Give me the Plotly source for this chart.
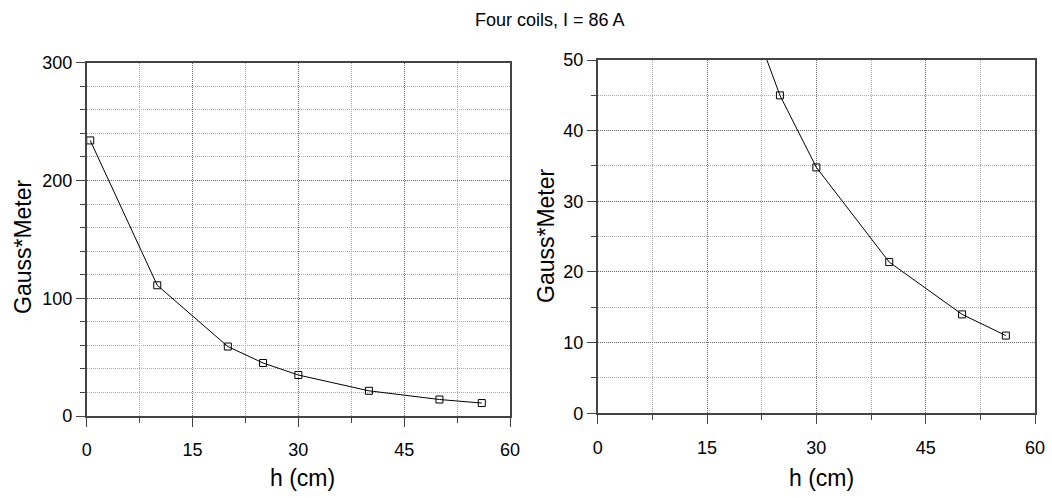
import plotly.graph_objects as go

# Data
h_cm = [0.5, 10, 20, 25, 30, 40, 50, 56]
gauss_meter = [234, 111, 59, 45, 34.8, 21.4, 14.0, 11.0]

title_text = "Four coils, I = 86 A"
x_title = "h (cm)"
y_title = "Gauss*Meter"

W, H = 1052, 498
FONT = "Liberation Sans, Arial, Helvetica, sans-serif"

fig = go.Figure()
for ax in ("", "2"):
    fig.add_trace(go.Scatter(
        x=h_cm, y=gauss_meter, mode="lines+markers",
        line=dict(color="black", width=1),
        marker=dict(symbol="square-open", size=7, color="black", line=dict(width=1)),
        xaxis="x" + ax, yaxis="y" + ax, showlegend=False, cliponaxis=True,
    ))

def px_x(p):
    return p / W

def px_y(p):
    return 1 - p / H

DOT = "1px,1px"
common_axis = dict(
    showline=True, linecolor="#444", linewidth=1.5, mirror=True,
    ticks="outside", ticklen=9, tickcolor="#444", tickwidth=1,
    showgrid=True, gridcolor="#666", griddash=DOT, gridwidth=1,
    zeroline=False, automargin=False,
    tickfont=dict(family=FONT, size=18, color="black"),
)

def minor(dt):
    return dict(dtick=dt, ticks="outside", ticklen=5, tickcolor="#444",
                showgrid=True, gridcolor="#aaa", griddash=DOT, gridwidth=1)

def xaxis(domain, anchor):
    d = dict(common_axis)
    d.update(domain=domain, range=[0, 60], dtick=15, tick0=0, anchor=anchor,
             minor=minor(7.5), ticklabelstandoff=8)
    return d

def yaxis(domain, anchor, rng, dt, mdt):
    d = dict(common_axis)
    d.update(domain=domain, range=rng, dtick=dt, tick0=0, anchor=anchor,
             minor=minor(mdt))
    return d

fig.update_layout(
    template="none",
    width=W, height=H,
    margin=dict(l=0, r=0, t=0, b=0, pad=0),
    paper_bgcolor="white", plot_bgcolor="white",
    font=dict(family=FONT, color="black"),
    xaxis=xaxis([px_x(86.7), px_x(510)], "y"),
    yaxis=yaxis([px_y(416), px_y(62.7)], "x", [0, 300], 100, 20),
    xaxis2=xaxis([px_x(597.7), px_x(1035)], "y2"),
    yaxis2=yaxis([px_y(413.3), px_y(60)], "x2", [0, 50], 10, 5),
)

annotations = [
    dict(text=title_text, x=px_x(550), y=px_y(20), font=dict(size=18)),
    dict(text=x_title, x=px_x(302), y=px_y(478), font=dict(size=23)),
    dict(text=x_title, x=px_x(821), y=px_y(478), font=dict(size=23)),
    dict(text=y_title, x=px_x(23), y=px_y(247), textangle=-90, font=dict(size=23)),
    dict(text=y_title, x=px_x(546), y=px_y(236), textangle=-90, font=dict(size=23)),
]
for a in annotations:
    a.update(xref="paper", yref="paper", showarrow=False, xanchor="center", yanchor="middle")
fig.update_layout(annotations=annotations)

fig.write_html(
    "out.html",
    config={"displayModeBar": False},
    post_script="document.body.style.margin='0';document.body.style.overflow='hidden';",
)
